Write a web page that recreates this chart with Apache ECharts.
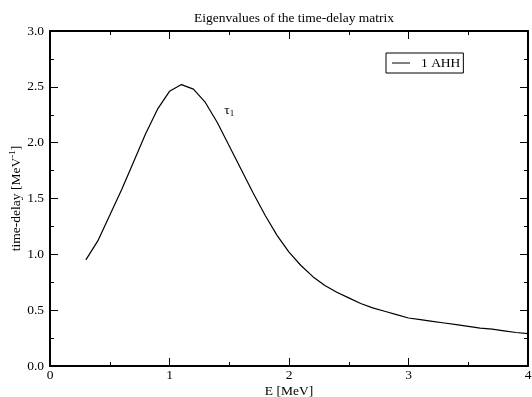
<!DOCTYPE html>
<html><head><meta charset="utf-8">
<script src="https://cdn.jsdelivr.net/npm/echarts@6/dist/echarts.min.js"></script>
<style>html,body{margin:0;padding:0;background:#fff}#c{width:532px;height:397px}</style>
</head><body><div id="c"></div>
<script>
const titleText = 'Eigenvalues of the time-delay matrix';
const seriesName = '1 AHH';
const energies = [0.3,0.4,0.5,0.6,0.7,0.8,0.9,1.0,1.1,1.2,1.3,1.4,1.5,1.6,1.7,1.8,1.9,2.0,2.1,2.2,2.3,2.4,2.5,2.6,2.7,2.8,2.9,3.0,3.1,3.2,3.3,3.4,3.5,3.6,3.7,3.8,3.9,4.0];
const tau1 = [0.95,1.12,1.35,1.58,1.83,2.08,2.30,2.46,2.52,2.48,2.36,2.18,1.97,1.76,1.55,1.35,1.17,1.02,0.90,0.80,0.72,0.66,0.61,0.56,0.52,0.49,0.46,0.43,0.415,0.40,0.385,0.37,0.355,0.34,0.33,0.315,0.30,0.29];
const curveLabelPos = [1.50, 2.29];

const F = 'Liberation Serif';
const FS = 13.5;
const chart = echarts.init(document.getElementById('c'), null, {renderer:'canvas'});
const axLine = {show:true, onZero:false, lineStyle:{color:'#000', width:2}};
const tickStyle = {color:'#000', width:1};
function xAx(pos, labels){
  return {type:'value', position:pos, min:0, max:4, interval:1,
    name: labels ? 'E [MeV]' : '', nameLocation:'middle', nameGap:18, nameMoveOverlap:false,
    nameTextStyle:{fontFamily:F, fontSize:FS, color:'#000'},
    axisLine:axLine,
    axisTick:{show:true, inside:true, length:8, lineStyle:tickStyle},
    minorTick:{show:true, splitNumber:2, length:4, lineStyle:tickStyle},
    axisLabel:{show:labels, fontFamily:F, fontSize:FS, color:'#000', margin:2},
    splitLine:{show:false}};
}
function yAx(pos, labels){
  return {type:'value', position:pos, min:0, max:3, interval:0.5,
    name: labels ? 'time-delay [MeV{sup|-1}]' : '', nameLocation:'middle', nameGap:25, nameRotate:90, nameMoveOverlap:false,
    nameTextStyle:{fontFamily:F, fontSize:FS, color:'#000',
      rich:{sup:{fontFamily:F, fontSize:9, color:'#000', verticalAlign:'top', padding:[0,0,8,0]}}},
    axisLine:axLine,
    axisTick:{show:true, inside:true, length:8, lineStyle:tickStyle},
    minorTick:{show:true, splitNumber:2, length:4, lineStyle:tickStyle},
    axisLabel:{show:labels, fontFamily:F, fontSize:FS, color:'#000', margin:6,
      formatter:v=>v.toFixed(1)},
    splitLine:{show:false}};
}
chart.setOption({
  animation:false,
  backgroundColor:'#fff',
  title:{text:titleText, left:289, textAlign:'center', top:6,
    textStyle:{fontFamily:F, fontSize:FS, fontWeight:'normal', color:'#000'}},
  grid:{left:50, right:4, top:31, bottom:31, containLabel:false, outerBoundsMode:'none'},
  legend:{show:true, left:386, top:53, orient:'vertical',
    borderColor:'#000', borderWidth:1, borderRadius:0, padding:[3,3,3,6],
    itemWidth:18, itemHeight:1, itemGap:0, icon:'rect',
    textStyle:{fontFamily:F, fontSize:FS, color:'#000', padding:[0,0,0,6]},
    data:[{name:seriesName, icon:'rect'}]},
  xAxis:[xAx('bottom', true), xAx('top', false)],
  yAxis:[yAx('left', true), yAx('right', false)],
  series:[{name:seriesName, type:'line', xAxisIndex:0, yAxisIndex:0,
    data: energies.map((e,i)=>[e, tau1[i]]),
    symbol:'none', smooth:false,
    lineStyle:{color:'#000', width:1.2}, itemStyle:{color:'#000'}}]
});
const p = chart.convertToPixel({xAxisIndex:0, yAxisIndex:0}, curveLabelPos);
chart.setOption({graphic:[{type:'text', x:p[0], y:p[1],
  style:{text:'τ{s|1}', fontFamily:F, fontSize:FS, fill:'#000', align:'center', verticalAlign:'middle',
    rich:{s:{fontFamily:F, fontSize:9, fill:'#000', padding:[7,0,0,0]}}}}]});
</script></body></html>
